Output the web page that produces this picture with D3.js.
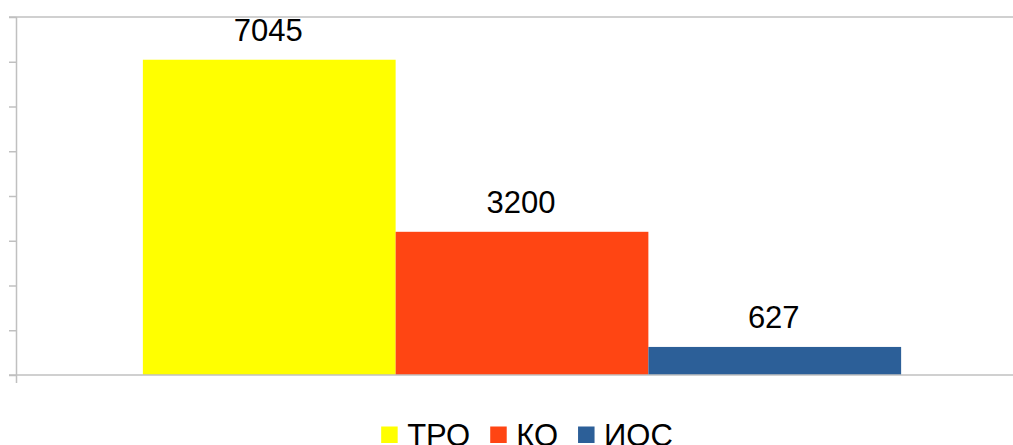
<!DOCTYPE html>
<html><head><meta charset="utf-8">
<script src="https://cdn.jsdelivr.net/npm/d3@7"></script>
<style>html,body{margin:0;padding:0;background:#fff;overflow:hidden}</style>
</head><body>
<svg id="c" width="1013" height="445"></svg>
<script>
const categories = [""];
const seriesNames = ["ТРО", "КО", "ИОС"];
const seriesValues = [7045, 3200, 627];
const seriesColors = ["#FFFF00", "#FF4513", "#2C5F98"];
const yTicks = [0, 1000, 2000, 3000, 4000, 5000, 6000, 7000, 8000];

const svg = d3.select("#c");
const W = 1013, H = 445;
const m = {left: 16.5, top: 17, right: -14.5, bottom: 70};
const x0 = d3.scaleBand().domain(categories).range([m.left, W - m.right]);
const x1 = d3.scaleBand().domain(seriesNames).range([0, x0.bandwidth()]).paddingInner(0).paddingOuter(0.5);
const y = d3.scaleLinear().domain([0, 8000]).range([H - m.bottom, m.top]);
const font = "'Liberation Sans', Arial, sans-serif";
const gridColor = "#c0c0c0";

// top line
svg.append("line").attr("x1", 9).attr("x2", W).attr("y1", y(8000)).attr("y2", y(8000))
  .attr("stroke", gridColor).attr("stroke-width", 1.5);

// bars
const g = svg.append("g").attr("transform", `translate(${x0(categories[0])},0)`);
g.selectAll("rect").data(seriesValues).join("rect")
  .attr("x", (d, i) => x1(seriesNames[i]))
  .attr("width", x1.bandwidth())
  .attr("y", d => y(d))
  .attr("height", d => y(0) - y(d))
  .attr("fill", (d, i) => seriesColors[i]);
g.selectAll("text").data(seriesValues).join("text")
  .attr("x", (d, i) => x1(seriesNames[i]) + x1.bandwidth() / 2 - 1)
  .attr("y", d => y(d) - 19)
  .attr("text-anchor", "middle")
  .attr("font-family", font).attr("font-size", 31).attr("fill", "#000")
  .text(d => d);

// y axis
const ya = svg.append("g").attr("transform", `translate(${m.left},0)`)
  .call(d3.axisLeft(y).tickValues(yTicks).tickSize(7.5).tickFormat(""));
ya.select(".domain").remove();
ya.selectAll(".tick line").attr("stroke", gridColor).attr("stroke-width", 1.5);
svg.append("line").attr("x1", m.left).attr("x2", m.left).attr("y1", y(8000)).attr("y2", y(0) + 8)
  .attr("stroke", gridColor).attr("stroke-width", 1.5);
// baseline
svg.append("line").attr("x1", 9).attr("x2", W).attr("y1", y(0)).attr("y2", y(0))
  .attr("stroke", gridColor).attr("stroke-width", 1.5);

// legend
const leg = svg.append("g");
let cx = 0;
seriesNames.forEach((n, i) => {
  const it = leg.append("g").attr("transform", `translate(${cx},0)`);
  it.append("rect").attr("x", 0).attr("y", 426.5).attr("width", 16.5).attr("height", 16.5).attr("fill", seriesColors[i]);
  const t = it.append("text").attr("x", 26).attr("y", 445.5).attr("font-family", font).attr("font-size", 31).attr("fill", "#000").text(n);
  const w = t.node().getComputedTextLength();
  cx += 26 + w + 20;
});
const totalW = cx - 20;
leg.attr("transform", `translate(${527 - totalW / 2},0)`);
</script>
</body></html>
